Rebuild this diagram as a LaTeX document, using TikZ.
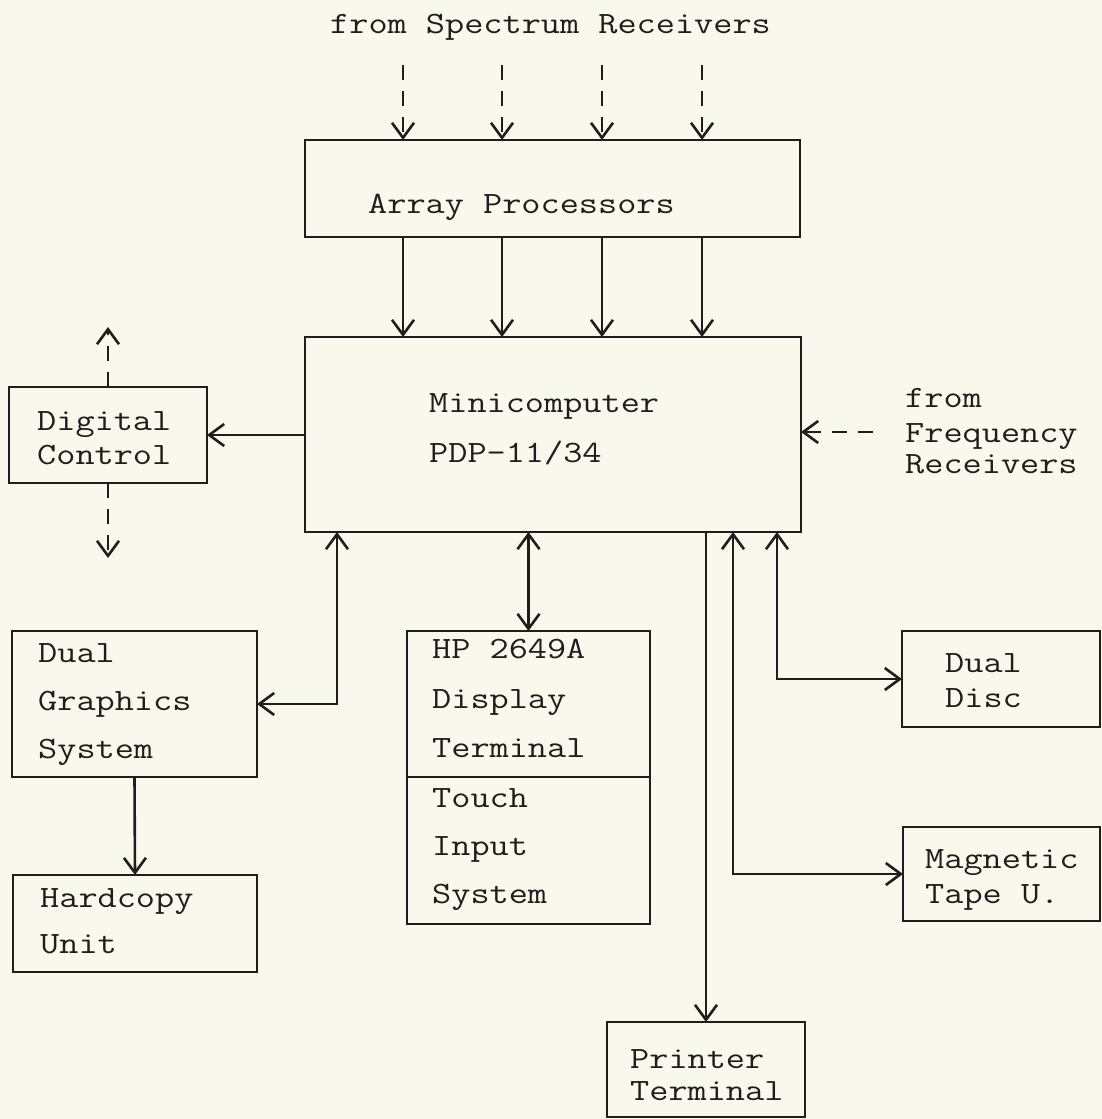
\documentclass[tikz,border=0pt]{standalone}
\usetikzlibrary{arrows.meta}

\definecolor{paper}{RGB}{249,248,236}
\definecolor{ink}{RGB}{36,28,28}
\newcommand{\tw}[1]{\scalebox{1.2}[1]{#1}}

\tikzset{
  box/.style={draw=ink, line width=2.6pt, inner sep=0pt, outer sep=0pt, anchor=north west},
  txt/.style={anchor=base west, inner sep=0pt, text=ink, font=\ttfamily\fontsize{31}{31}\selectfont},
  wire/.style={draw=ink, line width=2.6pt, -{Straight Barb[length=15pt,width=22pt]}},
  twoway/.style={wire, {Straight Barb[length=15pt,width=22pt]}-{Straight Barb[length=15pt,width=22pt]}},
  dashwire/.style={wire, dash pattern=on 15pt off 11pt}
}

\begin{document}
\begin{tikzpicture}[x=1pt, y=-1pt]
            \fill[paper] (0,0) rectangle (1102,1119);
            \useasboundingbox (0,0) rectangle (1102,1119);

            % Boxes
            \node[box, minimum width=495pt, minimum height=97pt] (ap) at (305,140) {};
            \node[box, minimum width=496pt, minimum height=195pt] (mc) at (305,337) {};
            \node[box, minimum width=198pt, minimum height=96pt] (dc) at (9,387) {};
            \node[box, minimum width=245pt, minimum height=146pt] (dgs) at (12,631) {};
            \node[box, minimum width=244pt, minimum height=97pt] (hc) at (13,875) {};
            \node[box, minimum width=243pt, minimum height=146pt] (hp) at (407,631) {};
            \node[box, minimum width=243pt, minimum height=147pt] (tis) at (407,777) {};
            \node[box, minimum width=198pt, minimum height=96pt] (dd) at (902,631) {};
            \node[box, minimum width=197pt, minimum height=94pt] (mt) at (903,827) {};
            \node[box, minimum width=198pt, minimum height=95pt] (pt) at (607,1022) {};

            % Labels
            \node[txt] (title) at (330,33) {\tw{from Spectrum Receivers}};
            \node[txt] (apl) at (368,213) {\tw{Array Processors}};
            \node[txt] (mcl1) at (429,412) {\tw{Minicomputer}};
            \node[txt] (mcl2) at (429,462) {\tw{PDP-11/34}};
            \node[txt] (dcl1) at (37,430) {\tw{Digital}};
            \node[txt] (dcl2) at (37,464) {\tw{Control}};
            \node[txt] (frl1) at (905,407) {\tw{from}};
            \node[txt] (frl2) at (905,442) {\tw{Frequency}};
            \node[txt] (frl3) at (905,473) {\tw{Receivers}};
            \node[txt] (dgl1) at (38,662) {\tw{Dual}};
            \node[txt] (dgl2) at (38,710) {\tw{Graphics}};
            \node[txt] (dgl3) at (38,758) {\tw{System}};
            \node[txt] (hcl1) at (40,907) {\tw{Hardcopy}};
            \node[txt] (hcl2) at (40,953) {\tw{Unit}};
            \node[txt] (hpl1) at (432,658) {\tw{HP 2649A}};
            \node[txt] (hpl2) at (432,708) {\tw{Display}};
            \node[txt] (hpl3) at (432,757) {\tw{Terminal}};
            \node[txt] (til1) at (432,807) {\tw{Touch}};
            \node[txt] (til2) at (432,855) {\tw{Input}};
            \node[txt] (til3) at (432,903) {\tw{System}};
            \node[txt] (ddl1) at (945,672) {\tw{Dual}};
            \node[txt] (ddl2) at (945,707) {\tw{Disc}};
            \node[txt] (mtl1) at (925,868) {\tw{Magnetic}};
            \node[txt] (mtl2) at (925,903) {\tw{Tape U.}};
            \node[txt] (ptl1) at (630,1068) {\tw{Printer}};
            \node[txt] (ptl2) at (630,1100) {\tw{Terminal}};

            % Spectrum receivers into array processors
            \coordinate (sr1) at (403,65);
            \coordinate (sr2) at (502,65);
            \coordinate (sr3) at (602,65);
            \coordinate (sr4) at (702,65);
            \draw[dashwire] (sr1) -- (sr1 |- ap.north);
            \draw[dashwire] (sr2) -- (sr2 |- ap.north);
            \draw[dashwire] (sr3) -- (sr3 |- ap.north);
            \draw[dashwire] (sr4) -- (sr4 |- ap.north);

            % Array processors to minicomputer
            \draw[wire] (ap.south -| sr1) -- (mc.north -| sr1);
            \draw[wire] (ap.south -| sr2) -- (mc.north -| sr2);
            \draw[wire] (ap.south -| sr3) -- (mc.north -| sr3);
            \draw[wire] (ap.south -| sr4) -- (mc.north -| sr4);

            % Digital control
            \coordinate (dcup) at (108,327);
            \coordinate (dcdown) at (108,558);
            \draw[wire] (mc.west |- dc.east) -- (dc.east);
            \draw[dashwire] (dc.north) -- (dcup);
            \draw[dashwire] (dc.south) -- (dcdown);

            % Frequency receivers
            \coordinate (fr) at (873,432);
            \draw[dashwire] (fr) -- (fr -| mc.east);

            % Peripherals
            \draw[twoway] ([xshift=32pt]mc.south west) |- (dgs.east);
            \draw[wire] (dgs.south) -- (hc.north);
            \draw[twoway] (mc.south -| hp.north) -- (hp.north);
            \draw[wire] (pt.north |- mc.south) -- (pt.north);
            \draw[twoway] ([xshift=-68pt]mc.south east) |- (mt.west);
            \draw[twoway] ([xshift=-24pt]mc.south east) |- (dd.west);
\end{tikzpicture}
\end{document}
